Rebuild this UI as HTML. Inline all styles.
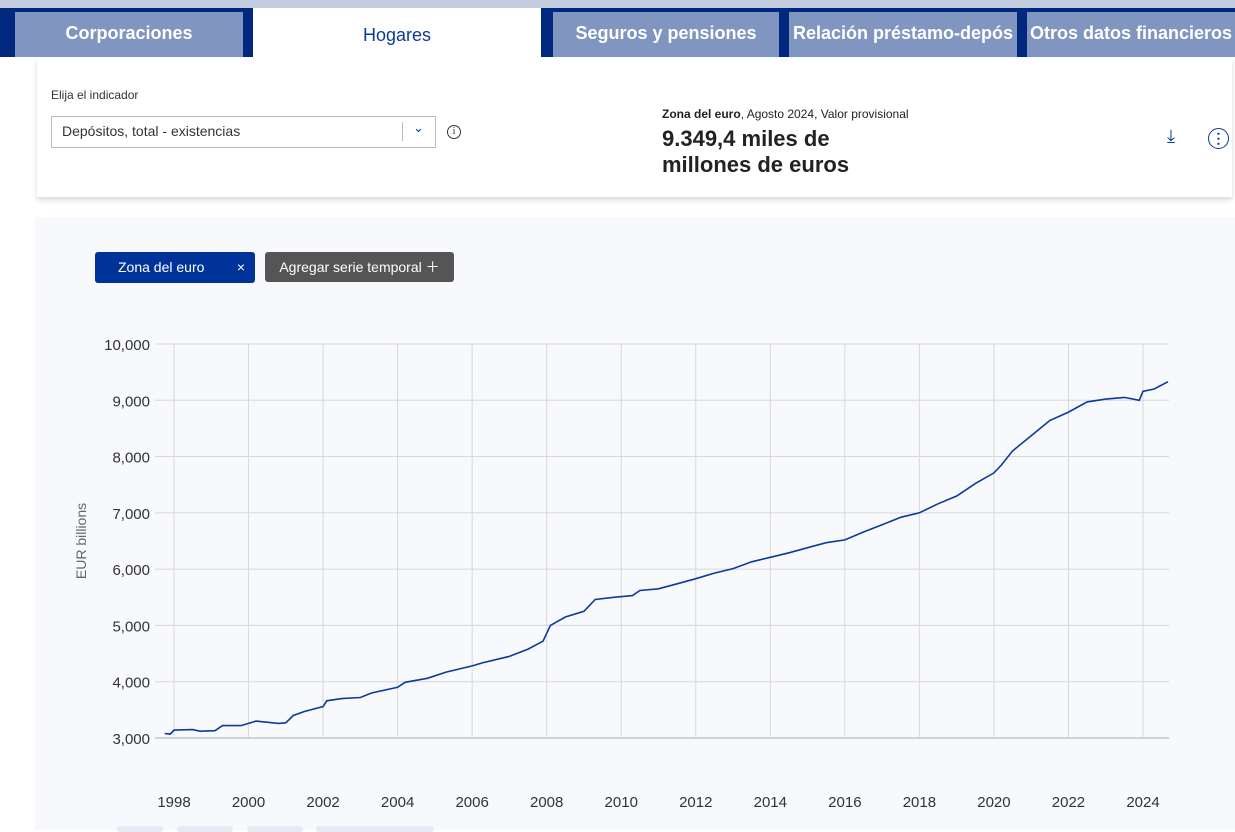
<!DOCTYPE html>
<html><head><meta charset="utf-8"><style>
body{margin:0;width:1235px;height:830px;overflow:hidden;background:#fff;font-family:"Liberation Sans",sans-serif;position:relative}
.a{position:absolute}
.tab{position:absolute;top:12px;height:45px;background:#8096c0;color:#fff;font-weight:bold;font-size:18px;line-height:43px;text-align:center;white-space:nowrap;overflow:hidden}
</style></head><body>
<div class="a" style="left:0;top:0;width:1235px;height:8px;background:#c5cde0"></div>
<div class="a" style="left:0;top:8px;width:1235px;height:49px;background:#00287f"></div>
<div class="tab" style="left:15px;width:228px">Corporaciones</div>
<div class="a" style="left:253px;top:8px;width:288px;height:49px;background:#fff;color:#0a3a9a;font-size:18px;text-align:center;line-height:54px">Hogares</div>
<div class="tab" style="left:553px;width:226px">Seguros y pensiones</div>
<div class="tab" style="left:789px;width:228px">Relación préstamo-depós</div>
<div class="tab" style="left:1027px;width:208px;text-align:left;padding-left:3px">Otros datos financieros</div>
<div class="a" style="left:37px;top:58px;width:1195px;height:139px;background:#fff;box-shadow:0 3px 5px rgba(0,0,0,0.15)"></div>
<div class="a" style="left:51px;top:88px;font-size:12px;color:#333">Elija el indicador</div>
<div class="a" style="left:51px;top:116px;width:383px;height:30px;border:1px solid #bbb;background:#fff"></div>
<div class="a" style="left:62px;top:123px;font-size:14px;color:#333">Depósitos, total - existencias</div>
<div class="a" style="left:402px;top:122px;width:1px;height:19px;background:#bbb"></div>
<div class="a" style="left:413px;top:120px;font-size:13px;color:#0a3a9a">⌄</div>
<div class="a" style="left:447px;top:125px;width:12px;height:12px;border:1.3px solid #333;border-radius:50%;font-size:10px;line-height:12px;text-align:center;color:#333;font-family:'Liberation Serif'">i</div>
<div class="a" style="left:662px;top:107px;font-size:12px;color:#222"><b>Zona del euro</b>, Agosto 2024, Valor provisional</div>
<div class="a" style="left:662px;top:126px;font-size:22px;font-weight:bold;color:#222;line-height:26px">9.349,4 miles de<br>millones de euros</div>
<div class="a" style="left:1167px;top:126px;font-size:18px;color:#0a3a9a">⤓</div>
<div class="a" style="left:1208px;top:128px;width:19px;height:19px;border:1.5px solid #0a3a9a;border-radius:50%;text-align:center;font-size:14px;line-height:18px;color:#0a3a9a;font-weight:bold">⋮</div>
<div class="a" style="left:35px;top:217px;width:1200px;height:613px;background:#f7f9fd"></div>
<div class="a" style="left:95px;top:252px;width:160px;height:31px;background:#00339a;border-radius:3px;color:#fff;font-size:14px;line-height:31px"><span style="margin-left:23px">Zona del euro</span><span style="position:absolute;right:10px">×</span></div>
<div class="a" style="left:265px;top:252px;width:189px;height:30px;background:#555;border-radius:3px;color:#fff;font-size:14px;line-height:30px;text-align:center">Agregar serie temporal ＋</div>
<svg class="a" style="left:0;top:0" width="1235" height="830" id="s">
<text x="86" y="541" transform="rotate(-90 86 541)" font-size="14" fill="#666" text-anchor="middle" font-family="Liberation Sans">EUR billions</text>
</svg>
<div class="a" style="left:117px;top:826px;width:46px;height:6px;background:#e6eaf2;border-radius:3px"></div>
<div class="a" style="left:177px;top:826px;width:56px;height:6px;background:#e6eaf2;border-radius:3px"></div>
<div class="a" style="left:247px;top:826px;width:56px;height:6px;background:#e6eaf2;border-radius:3px"></div>
<div class="a" style="left:316px;top:826px;width:118px;height:6px;background:#e6eaf2;border-radius:3px"></div>
<script>
var s=document.getElementById('s'),h='';
function X(y){return 174+(y-1998)*37.27}function Y(v){return 738-(v-3000)*0.05629}
for(var v=3000;v<=10000;v+=1000){var y=Y(v);h+='<line x1="155" x2="1169" y1="'+y+'" y2="'+y+'" stroke="'+(v==3000?'#aaa':'#d8d8d8')+'"/>';
h+='<text x="150" y="'+(y+6)+'" text-anchor="end" font-size="15" fill="#333" font-family="Liberation Sans">'+v.toLocaleString('en-US')+'</text>';}
for(var yr=1998;yr<=2024;yr+=2){var x=X(yr);h+='<line x1="'+x+'" x2="'+x+'" y1="344" y2="738" stroke="#d8d8d8"/>';
h+='<text x="'+x+'" y="807" text-anchor="middle" font-size="15" fill="#333" font-family="Liberation Sans">'+yr+'</text>';}
var d=[[1997.75,3080],[1997.9,3070],[1998,3140],[1998.5,3150],[1998.7,3120],[1999.1,3130],[1999.3,3220],[1999.8,3220],[2000,3260],[2000.2,3300],[2000.8,3260],[2001,3270],[2001.2,3400],[2001.5,3470],[2002,3560],[2002.1,3660],[2002.5,3700],[2003,3720],[2003.3,3800],[2004,3900],[2004.2,3990],[2004.8,4060],[2005.3,4170],[2006,4280],[2006.3,4340],[2007,4450],[2007.5,4580],[2007.9,4720],[2008.1,5000],[2008.5,5150],[2009,5250],[2009.3,5460],[2009.8,5500],[2010.3,5530],[2010.5,5620],[2011,5650],[2011.5,5740],[2012,5830],[2012.5,5930],[2013,6010],[2013.5,6130],[2014,6210],[2014.5,6290],[2015,6380],[2015.5,6470],[2016,6520],[2016.5,6660],[2017,6790],[2017.5,6920],[2018,7000],[2018.5,7160],[2019,7300],[2019.5,7520],[2020,7710],[2020.2,7850],[2020.5,8100],[2021,8370],[2021.5,8640],[2022,8790],[2022.5,8970],[2023,9020],[2023.5,9050],[2023.9,9000],[2024,9160],[2024.3,9200],[2024.67,9330]];
h+='<polyline fill="none" stroke="#0a3a9a" stroke-width="1.6" points="'+d.map(function(p){return X(p[0]).toFixed(1)+','+Y(p[1]).toFixed(1)}).join(' ')+'"/>';
s.insertAdjacentHTML('beforeend',h);
</script>
</body></html>
